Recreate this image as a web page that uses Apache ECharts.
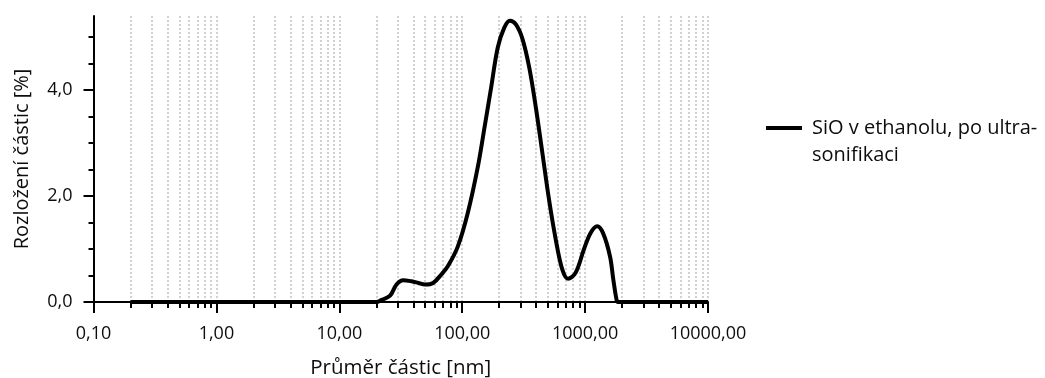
<!DOCTYPE html>
<html>
<head>
<meta charset="utf-8">
<script src="https://cdn.jsdelivr.net/npm/echarts@6/dist/echarts.min.js"></script>
<style>
html,body{margin:0;padding:0;background:#fff;}
#chart{width:1045px;height:378px;}
</style>
</head>
<body>
<div id="chart"></div>
<script>
// particle diameter [nm]
var sizes = [0.2, 1, 10, 20, 22.1, 25.9, 29.2, 33.1, 38.7, 44, 49.7, 58, 67.6, 76.6, 92.2, 111, 134, 152, 172, 194.5, 220, 244.5, 273.5, 310, 351, 397, 450, 509, 577, 653, 726, 836, 977, 1106, 1253, 1400, 1595, 1695, 1800, 1850, 2100, 5000, 10000];
// distribution [%]
var values = [0, 0, 0, 0, 0.04, 0.12, 0.33, 0.41, 0.39, 0.36, 0.33, 0.36, 0.52, 0.68, 1.05, 1.68, 2.55, 3.30, 4.05, 4.80, 5.18, 5.31, 5.24, 4.96, 4.43, 3.68, 2.80, 1.93, 1.18, 0.61, 0.44, 0.55, 0.99, 1.30, 1.43, 1.30, 0.86, 0.43, 0.05, 0, 0, 0, 0];
var seriesName = 'SiO v ethanolu, po ultra-sonifikaci';
var xMajorTicks = [0.1, 1, 10, 100, 1000, 10000];
var xGridValues = [0.2,0.3,0.4,0.5,0.6,0.7,0.8,0.9,1,2,3,4,5,6,7,8,9,10,20,30,40,50,60,70,80,90,100,200,300,400,500,600,700,800,900,1000,2000,3000,4000,5000,6000,7000,8000,9000,10000];
var yTicks = [0, 2, 4];

var fontFam = '"Open Sans", "Noto Sans", sans-serif';
var txt = '#0d0d0d';
var chart = echarts.init(document.getElementById('chart'), null, {renderer: 'canvas'});
chart.setOption({
  animation: false,
  backgroundColor: '#ffffff',
  grid: {left: 93.5, right: 337, top: 16, bottom: 76, containLabel: false, outerBoundsMode: 'none'},
  legend: {
    left: 766, top: 87.5, padding: 0,
    itemWidth: 36, itemHeight: 4,
    icon: 'rect',
    data: [seriesName],
    // leading empty line keeps the first text line level with the legend line
    formatter: function (n) { return ' \n' + n.replace('ultra-', 'ultra-\n'); },
    textStyle: {fontFamily: fontFam, fontSize: 20, color: txt, lineHeight: 27, padding: [0, 0, 0, 5]}
  },
  xAxis: [{
    type: 'log', logBase: 10, min: 0.1, max: 10000,
    position: 'bottom',
    axisLine: {show: true, lineStyle: {color: '#000', width: 2}},
    axisTick: {show: true, length: 11, customValues: xMajorTicks, lineStyle: {color: '#000', width: 2}},
    axisLabel: {show: true, customValues: xMajorTicks, margin: 23, fontFamily: fontFam, fontSize: 18, color: txt,
      formatter: function (v) { return Number(v).toFixed(2).replace('.', ','); }},
    splitLine: {show: false},
    name: 'Průměr částic [nm]', nameLocation: 'middle', nameGap: 56,
    nameTextStyle: {fontFamily: fontFam, fontSize: 20.5, color: txt}
  }, {
    type: 'log', logBase: 10, min: 0.1, max: 10000,
    position: 'bottom', offset: 0,
    axisLine: {show: false},
    axisTick: {show: true, length: 6, customValues: xGridValues, lineStyle: {color: '#000', width: 2}},
    axisLabel: {show: false},
    splitLine: {show: true, lineStyle: {color: '#c2c2c2', width: 1.5, type: [2, 2]}}
  }],
  yAxis: {
    type: 'value', min: 0, max: 5.4, interval: 2,
    axisLine: {show: true, lineStyle: {color: '#000', width: 2}},
    axisTick: {show: true, length: 10, customValues: yTicks, lineStyle: {color: '#000', width: 2}},
    minorTick: {show: true, splitNumber: 4, length: 5, lineStyle: {color: '#000', width: 2}},
    axisLabel: {customValues: yTicks, margin: 21, fontFamily: fontFam, fontSize: 18, color: txt,
      formatter: function (v) { return Number(v).toFixed(1).replace('.', ','); }},
    splitLine: {show: false},
    name: 'Rozložení částic [%]', nameLocation: 'middle', nameGap: 61,
    nameTextStyle: {fontFamily: fontFam, fontSize: 20, color: txt}
  },
  series: [{
    name: seriesName,
    type: 'line',
    xAxisIndex: 0,
    data: sizes.map(function (s, i) { return [s, values[i]]; }),
    smooth: 0.35,
    symbol: 'none',
    showSymbol: false,
    lineStyle: {color: '#000', width: 4},
    itemStyle: {color: '#000'},
    z: 5
  }]
});
</script>
</body>
</html>
